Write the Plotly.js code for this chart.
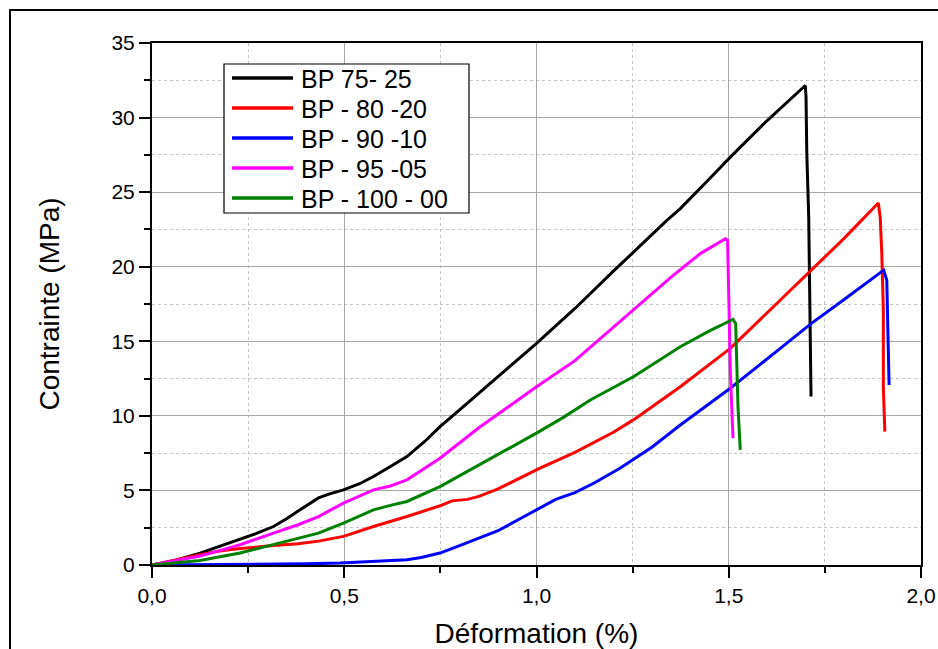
<!DOCTYPE html>
<html>
<head>
<meta charset="utf-8">
<script src="https://cdn.plot.ly/plotly-3.0.1.min.js"></script>
<style>
html,body{margin:0;padding:0;background:#fff;}
#chart{width:938px;height:649px;}
</style>
</head>
<body>
<div id="chart"></div>
<script>
// Series names
const names = ["BP 75- 25", "BP - 80 -20", "BP - 90 -10", "BP - 95 -05", "BP - 100 - 00"];
const colors = ["#000000", "#ff0000", "#0000ff", "#ff00ff", "#008000"];

// BP 75-25
const x75 = [0, 0.06, 0.125, 0.18, 0.229, 0.27, 0.316, 0.35, 0.385, 0.433, 0.46, 0.498, 0.54, 0.576, 0.62, 0.663, 0.71, 0.749, 0.80, 0.85, 0.90, 0.95, 1.0, 1.1, 1.2, 1.339, 1.374, 1.45, 1.504, 1.6, 1.699, 1.701, 1.703, 1.708, 1.711, 1.714];
const y75 = [0, 0.3, 0.8, 1.3, 1.7, 2.1, 2.58, 3.1, 3.7, 4.5, 4.75, 5.04, 5.45, 5.93, 6.6, 7.27, 8.3, 9.28, 10.4, 11.5, 12.6, 13.7, 14.86, 17.2, 19.7, 23.1, 23.9, 25.9, 27.35, 29.8, 32.15, 31.4, 27.6, 23.3, 17.1, 11.3];

// BP 80-20
const x80 = [0, 0.06, 0.125, 0.18, 0.229, 0.316, 0.38, 0.433, 0.498, 0.576, 0.663, 0.749, 0.78, 0.82, 0.85, 0.9, 0.95, 1.009, 1.1, 1.2, 1.252, 1.374, 1.504, 1.634, 1.707, 1.8, 1.889, 1.894, 1.898, 1.902, 1.902, 1.906];
const y80 = [0, 0.35, 0.69, 0.95, 1.1, 1.3, 1.42, 1.6, 1.92, 2.58, 3.25, 3.97, 4.3, 4.4, 4.6, 5.1, 5.75, 6.49, 7.55, 8.9, 9.73, 11.95, 14.52, 17.76, 19.54, 21.9, 24.27, 23.3, 20.9, 17.1, 11.95, 8.94];

// BP 90-10
const x90 = [0, 0.2, 0.4, 0.49, 0.6, 0.663, 0.7, 0.749, 0.8, 0.85, 0.9, 0.95, 1.0, 1.05, 1.1, 1.15, 1.217, 1.3, 1.374, 1.504, 1.634, 1.715, 1.8, 1.903, 1.911, 1.915, 1.917];
const y90 = [0, 0.03, 0.08, 0.13, 0.25, 0.35, 0.5, 0.8, 1.3, 1.8, 2.3, 3.0, 3.7, 4.4, 4.85, 5.5, 6.49, 7.9, 9.39, 11.85, 14.52, 16.2, 17.8, 19.77, 19.1, 14.86, 12.07];

// BP 95-05
const x95 = [0, 0.06, 0.125, 0.18, 0.229, 0.316, 0.38, 0.433, 0.498, 0.576, 0.62, 0.663, 0.749, 0.85, 1.0, 1.1, 1.252, 1.35, 1.426, 1.491, 1.497, 1.5, 1.504, 1.511];
const y95 = [0, 0.3, 0.6, 1.0, 1.36, 2.14, 2.7, 3.25, 4.15, 5.04, 5.3, 5.71, 7.16, 9.2, 11.95, 13.7, 17.09, 19.3, 20.88, 21.88, 21.77, 17.5, 13.07, 8.5];

// BP 100-00
const x100 = [0, 0.125, 0.229, 0.316, 0.433, 0.498, 0.55, 0.576, 0.62, 0.663, 0.749, 0.836, 0.92, 1.0, 1.07, 1.14, 1.252, 1.374, 1.45, 1.495, 1.511, 1.518, 1.52, 1.524, 1.53];
const y100 = [0, 0.3, 0.8, 1.36, 2.14, 2.81, 3.4, 3.7, 4.0, 4.26, 5.26, 6.49, 7.7, 8.84, 9.9, 11.06, 12.62, 14.63, 15.7, 16.3, 16.47, 16.2, 13.74, 10.62, 7.72];

const xs = [x75, x80, x90, x95, x100];
const ys = [y75, y80, y90, y95, y100];

const xTitle = "Déformation (%)";
const yTitle = "Contrainte (MPa)";

const FONT = "Liberation Sans, Arial, sans-serif";

// plot-area geometry (pixels) used for placing the hand-drawn legend
const W = 938, H = 649, ML = 152, MR = 17, MT = 43, MB = 84;
const PW = W - ML - MR, PH = H - MT - MB;
const px = v => (v - ML) / PW;            // pixel x -> paper x
const py = v => (H - MB - v) / PH;        // pixel y -> paper y

const traces = names.map((n, i) => ({
  type: "scatter", mode: "lines", name: n,
  x: xs[i], y: ys[i],
  line: {color: colors[i], width: 3},
  cliponaxis: true, showlegend: false
}));

// legend drawn as shapes + annotations
const shapes = [
  {type: "rect", xref: "paper", yref: "paper",
   x0: px(10), x1: px(1200), y0: py(800), y1: py(10),
   line: {color: "#000", width: 2}, fillcolor: "rgba(0,0,0,0)", layer: "below"},
  {type: "rect", xref: "paper", yref: "paper",
   x0: px(224), x1: px(469), y0: py(213), y1: py(64),
   line: {color: "#000", width: 1.2}, fillcolor: "#ffffff", layer: "above"}
];
const annotations = [];
names.forEach((n, i) => {
  const yy = 78 + 30 * i;
  shapes.push({type: "line", xref: "paper", yref: "paper",
    x0: px(232), x1: px(293), y0: py(yy), y1: py(yy),
    line: {color: colors[i], width: 3.5}, layer: "above"});
  annotations.push({xref: "paper", yref: "paper", x: px(299), y: py(yy + 1),
    xanchor: "left", yanchor: "middle", showarrow: false, text: n,
    font: {family: FONT, size: 25, color: "#000"}});
});

const layout = {
  width: W, height: H,
  margin: {l: ML, r: MR, t: MT, b: MB},
  paper_bgcolor: "#ffffff", plot_bgcolor: "#ffffff",
  separators: ",.",
  font: {family: FONT, color: "#000"},
  showlegend: false,
  xaxis: {
    range: [0, 2], dtick: 0.5, tick0: 0, tickformat: ".1f",
    showline: true, linecolor: "#000", linewidth: 2, mirror: true,
    ticks: "outside", ticklen: 11, tickwidth: 2, tickcolor: "#000",
    showgrid: true, gridcolor: "#a8a8a8", gridwidth: 1,
    zeroline: false,
    minor: {dtick: 0.25, showgrid: true, gridcolor: "#c4c4c4", griddash: "dot", gridwidth: 1,
            ticks: "outside", ticklen: 6, tickwidth: 2, tickcolor: "#000"},
    tickfont: {family: FONT, size: 21, color: "#000"},
    title: {text: xTitle, font: {family: FONT, size: 28, color: "#000"}, standoff: 19}
  },
  yaxis: {
    range: [0, 35], dtick: 5, tick0: 0,
    showline: true, linecolor: "#000", linewidth: 2, mirror: true,
    ticks: "outside", ticklen: 11, tickwidth: 2, tickcolor: "#000",
    showgrid: true, gridcolor: "#a8a8a8", gridwidth: 1,
    zeroline: false,
    minor: {dtick: 2.5, showgrid: true, gridcolor: "#c4c4c4", griddash: "dot", gridwidth: 1,
            ticks: "outside", ticklen: 6, tickwidth: 2, tickcolor: "#000"},
    tickfont: {family: FONT, size: 21, color: "#000"},
    title: {text: yTitle, font: {family: FONT, size: 28, color: "#000"}, standoff: 44}
  },
  shapes: shapes,
  annotations: annotations
};

Plotly.newPlot("chart", traces, layout, {displayModeBar: false, staticPlot: true});
</script>
</body>
</html>
